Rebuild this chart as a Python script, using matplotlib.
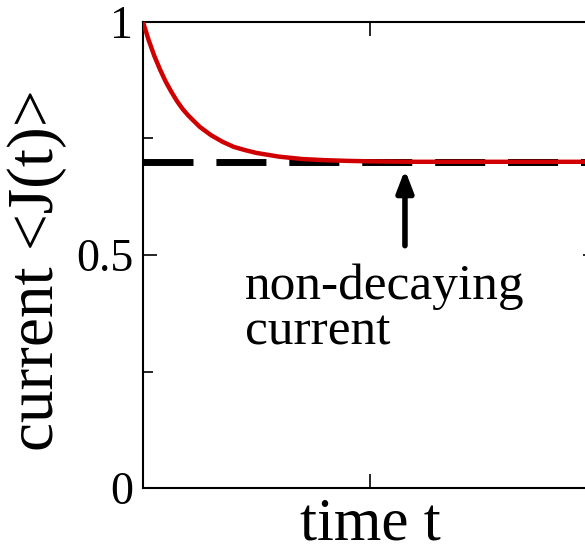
"""Current <J(t)> relaxing to a non-decaying value."""

import matplotlib
matplotlib.use("Agg")
import matplotlib.pyplot as plt
from matplotlib.ticker import FixedLocator, NullFormatter

# curve
time_t = [0.0, 0.025, 0.05, 0.075, 0.10, 0.125, 0.15, 0.175, 0.20, 0.25,
          0.30, 0.35, 0.40, 0.45, 0.50, 0.60, 0.70, 0.80, 0.90, 1.0, 1.2, 2.0]
current = [1.0, 0.961, 0.927, 0.898, 0.872, 0.850, 0.830, 0.813, 0.799, 0.775,
           0.757, 0.743, 0.732, 0.725, 0.719, 0.711, 0.706, 0.7035, 0.702,
           0.701, 0.700, 0.700]

plateau = 0.7
y_ticks = [0, 0.5, 1]
y_tick_labels = ["0", "0.5", "1"]
y_minor = [0.25, 0.75]
x_ticks = [1.0]

arrow_x = 1.154
arrow_tip, arrow_tail = 0.683, 0.52
note = "non-decaying\ncurrent"

plt.rcParams.update({
    "font.family": ["Liberation Serif", "DejaVu Serif"],
    "axes.linewidth": 1.5,
})

fig = plt.figure(figsize=(5.85, 5.45), dpi=100)
# right spine lies just past the cropped edge of the original figure
ax = fig.add_axes([143 / 585, 57 / 545, 454 / 585, 466 / 545])

ax.axhline(plateau, color="black", lw=5, dashes=(7.2, 3.3), zorder=2)
ax.plot(time_t, current, color="#d00000", lw=3.2, zorder=3,
        solid_capstyle="butt")

ax.annotate("", xy=(arrow_x, arrow_tip), xytext=(arrow_x, arrow_tail),
            arrowprops=dict(arrowstyle="-|>,head_length=1.3,head_width=0.5",
                            color="black", lw=4, shrinkA=0, shrinkB=0))
ax.text(0.449, 0.307, note, fontsize=37, ha="left", va="baseline",
        linespacing=0.98)

ax.set_xlim(0, 2)
ax.set_ylim(0, 1)
ax.set_xticks(x_ticks)
ax.set_xticklabels([])
ax.set_yticks(y_ticks)
ax.set_yticklabels(y_tick_labels, fontsize=33)
ax.yaxis.set_minor_locator(FixedLocator(y_minor))
ax.yaxis.set_minor_formatter(NullFormatter())
ax.tick_params(which="both", direction="in", top=True, right=True, width=1.2)
ax.tick_params(which="major", length=10, pad=7)
ax.tick_params(which="minor", length=7)

ax.set_xlabel("time t", fontsize=44)
ax.set_ylabel("current <J(t)>", fontsize=47)
ax.yaxis.set_label_coords(-0.167, 0.468)
ax.xaxis.set_label_coords(0.5, -0.02)
ax.xaxis.label.set_va("top")

fig.savefig("out.png", dpi=100)
